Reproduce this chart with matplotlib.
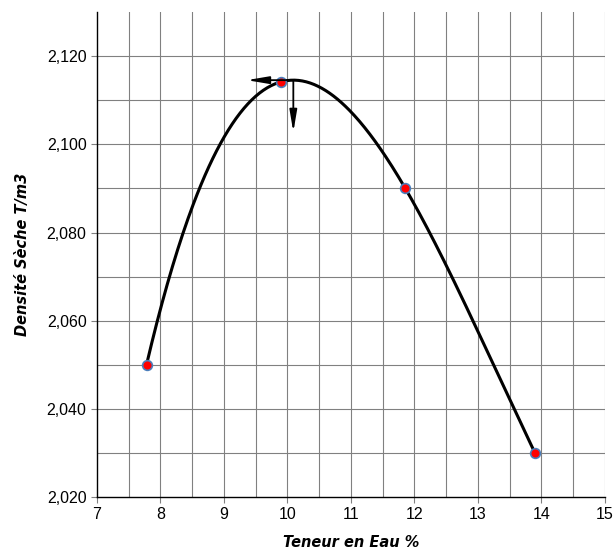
import numpy as np
import matplotlib
matplotlib.use('Agg')
import matplotlib.pyplot as plt
from matplotlib.ticker import FuncFormatter

# Proctor test points
teneur = [7.78, 9.90, 11.85, 13.90]
densite = [2.050, 2.1142, 2.0902, 2.030]

# where the optimum arrows end
arrow_x_end = 9.36
arrow_y_end = 2.1028

x_ticks = [7, 8, 9, 10, 11, 12, 13, 14, 15]
y_ticks = [2.020, 2.040, 2.060, 2.080, 2.100, 2.120]

# polynomial curve (order 3) through the points
coef = np.polyfit(teneur, densite, 3)
cx = np.linspace(min(teneur), max(teneur), 300)
cy = np.polyval(coef, cx)
w_opt = cx[np.argmax(cy)]
d_opt = cy.max()

fig = plt.figure(figsize=(6.14, 5.54), dpi=100)
ax = fig.add_axes([0.158, 0.103, 0.827, 0.875])

# grid
for gx in np.arange(7.5, 15.01, 0.5):
    ax.axvline(gx, color='#808080', lw=0.8, zorder=0)
for gy in np.arange(2.030, 2.1201, 0.010):
    ax.axhline(gy, color='#808080', lw=0.8, zorder=0)

ax.plot(cx, cy, color='black', lw=2.2, zorder=2)
ax.plot(teneur, densite, 'o', ms=7, mfc='red', mec='#4a7ebb', mew=1.2, zorder=3)

head = '-|>,head_length=1.3,head_width=0.22'
ax.annotate('', xy=(arrow_x_end, d_opt), xytext=(w_opt, d_opt),
            arrowprops=dict(arrowstyle=head, color='black', lw=1.3, shrinkA=0, shrinkB=0))
ax.annotate('', xy=(w_opt, arrow_y_end), xytext=(w_opt, d_opt),
            arrowprops=dict(arrowstyle=head, color='black', lw=1.3, shrinkA=0, shrinkB=0))

ax.set_xlim(7, 15)
ax.set_ylim(2.020, 2.130)
ax.set_xticks(x_ticks)
ax.set_yticks(y_ticks)
ax.yaxis.set_major_formatter(FuncFormatter(lambda v, p: f'{v:.3f}'.replace('.', ',')))
ax.tick_params(direction='out', length=4, width=0.8, labelsize=11.5, color='#808080', labelcolor='black')
for lab in ax.get_xticklabels() + ax.get_yticklabels():
    lab.set_family('Liberation Sans')

ax.spines['top'].set_visible(False)
ax.spines['right'].set_visible(False)
ax.spines['left'].set_linewidth(1.0)
ax.spines['bottom'].set_linewidth(1.0)

ax.set_xlabel('Teneur en Eau %', fontsize=10.5, fontweight='bold', fontstyle='italic', labelpad=9)
ax.set_ylabel('Densité Sèche T/m3', fontsize=10.5, fontweight='bold', fontstyle='italic', labelpad=12)

fig.savefig('out.png', dpi=100)
